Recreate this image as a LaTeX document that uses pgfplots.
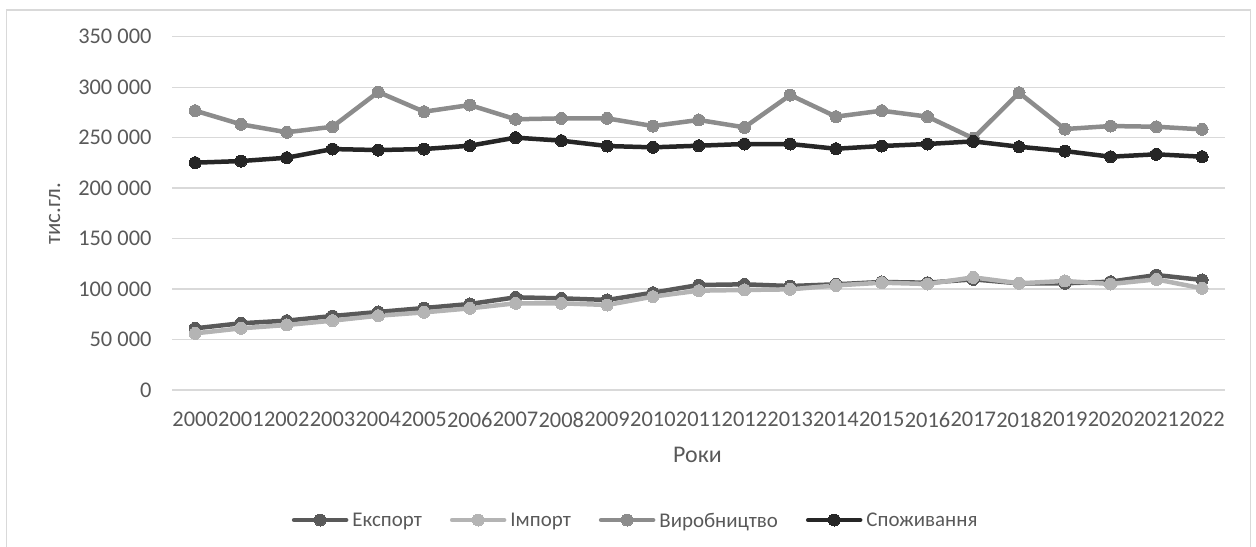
\documentclass[border=0pt]{standalone}
\usepackage{fontspec}
\setmainfont{Carlito}
\usepackage{pgfplots}
\usepackage{pgfplotstable}
\pgfplotsset{compat=1.18}

\definecolor{gridc}{HTML}{D9D9D9}
\definecolor{txt}{HTML}{595959}
\definecolor{cexp}{HTML}{595959}
\definecolor{cimp}{HTML}{B4B4B4}
\definecolor{cprod}{HTML}{8C8C8C}
\definecolor{ccons}{HTML}{262626}

% x = year - 2000
\pgfplotstableread{
x exp    imp    prod   cons
0  61100  56100 276700 225200
1  66100  61100 263200 226800
2  68700  64400 255300 230100
3  73300  68700 260800 238700
4  77300  73600 295200 237700
5  81200  76900 275700 238700
6  85200  80900 282300 242000
7  91800  85900 268200 250000
8  90800  85900 269100 247000
9  89200  84200 269100 241700
10 96400  92500 261500 240400
11 104000 98400 267500 242000
12 104700 99100 260200 243700
13 103000 99700 292200 243700
14 104700 103600 270800 239000
15 107000 106300 276700 241700
16 106300 105000 270800 243700
17 109600 111600 249300 246300
18 105700 105700 294500 241000
19 105700 108000 258500 236700
20 107300 105000 261500 231100
21 113900 109600 260800 233500
22 109000 100700 258200 231100
}\data

\begin{document}
\begin{tikzpicture}
\path[use as bounding box] (-172.3bp,-157bp) rectangle (1083.7bp,390bp);
\draw[gridc, line width=1.3bp] (-165.6bp,-200bp) -- (-165.6bp,380bp) -- (1078.4bp,380bp) -- (1078.4bp,-200bp);
\begin{axis}[
  scale only axis, width=1052.7bp, height=353.3bp,
  at={(0,0)}, anchor=south west,
  clip=false,
  xmin=-0.5, xmax=22.5, ymin=0, ymax=350000,
  axis line style={draw=none},
  major tick length=0pt,
  ymajorgrids, grid style={gridc, line width=1.3bp},
  xtick={0,...,22},
  xticklabels={2000,2001,2002,2003,2004,2005,2006,2007,2008,2009,2010,2011,2012,2013,2014,2015,2016,2017,2018,2019,2020,2021,2022},
  ytick={0,50000,100000,150000,200000,250000,300000,350000},
  yticklabels={0,50 000,100 000,150 000,200 000,250 000,300 000,350 000},
  scaled y ticks=false,
  ticklabel style={font=\fontsize{22.5}{26}\selectfont, text=txt, inner sep=0pt},
  yticklabel style={anchor=east, xshift=-20.6bp},
  xticklabel style={anchor=north, yshift=-21.7bp},
  xlabel={Роки},
  xlabel style={at={(axis description cs:0.4989,-0.2046)}, anchor=base, font=\fontsize{24}{28}\selectfont, text=txt, inner sep=0pt},
  ylabel={тис.гл.},
  ylabel style={at={(axis description cs:-0.1117,0.4987)}, anchor=center, font=\fontsize{23}{27}\selectfont, text=txt, inner sep=0pt},
  legend columns=4,
  legend style={at={(axis description cs:0.1134,-0.368)}, anchor=west, draw=none, fill=none, inner sep=0pt,
    font=\fontsize{21}{25}\selectfont, text=txt,
    nodes={inner sep=0pt, text depth=0pt},
    /tikz/every odd column/.append style={column sep=4bp},
    /tikz/every even column/.append style={column sep=28bp}},
  legend image code/.code={\draw[#1, mark repeat=2, mark phase=2] plot coordinates {(0bp,0bp) (26bp,0bp) (52bp,0bp)};},
  every axis plot/.append style={line width=4.5bp, line join=round, line cap=round, mark=*, mark size=6bp},
]
\addplot[cexp, mark options={fill=cexp, draw=cexp, line width=0pt}] table[x=x, y=exp] {\data};
\addlegendentry{Експорт}
\addplot[cimp, mark options={fill=cimp, draw=cimp, line width=0pt}] table[x=x, y=imp] {\data};
\addlegendentry{Імпорт}
\addplot[cprod, mark options={fill=cprod, draw=cprod, line width=0pt}] table[x=x, y=prod] {\data};
\addlegendentry{Виробництво}
\addplot[ccons, mark options={fill=ccons, draw=ccons, line width=0pt}] table[x=x, y=cons] {\data};
\addlegendentry{Споживання}
\end{axis}
\end{tikzpicture}
\end{document}
